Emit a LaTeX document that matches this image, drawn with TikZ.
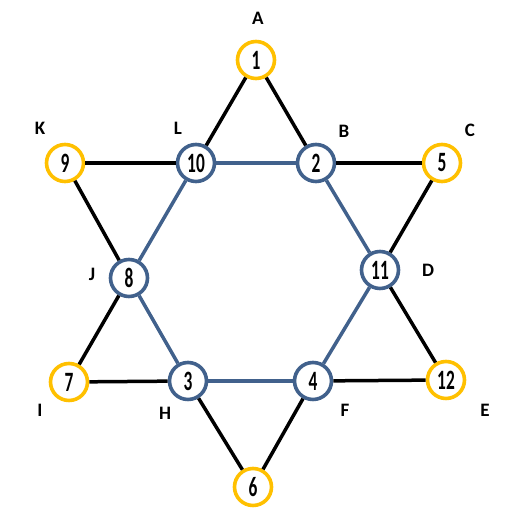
\documentclass[tikz,border=0pt]{standalone}
\usepackage{fontspec}
\setmainfont{Carlito}
\newfontfamily\numfont[FakeStretch=0.62]{Carlito}
\definecolor{tipgold}{RGB}{255,192,0}
\definecolor{hexblue}{RGB}{65,97,140}

\begin{document}
\begin{tikzpicture}[x=0.5pt,y=-0.5pt,
  spot/.style={circle,draw,line width=1.8pt,fill=white,minimum size=18.5pt,
    inner sep=0pt,font=\numfont\bfseries\fontsize{14}{14}\selectfont},
  tip/.style={spot,draw=tipgold},
  hub/.style={spot,draw=hexblue},
  tag/.style={font=\bfseries\fontsize{9.5}{10}\selectfont},
  edge/.style={line width=1.75pt}]
  \useasboundingbox (0,0) rectangle (516,512);
  % outer points of the star
  \foreach \n/\x/\y in {1/256/60, 5/442/163, 12/446/380, 6/253/487, 7/69/382, 9/65/163}
    \node[tip] (n\n) at (\x,\y) {\n};
  % inner hexagon
  \foreach \n/\x/\y in {10/196/163, 2/316/163, 11/380/270, 4/313/381, 3/188/381, 8/129/278}
    \node[hub] (n\n) at (\x,\y) {\n};
  % letters
  \foreach \t/\x/\y in {A/258/18, L/178/128, B/344/131, C/470/130, K/40/128, J/92/274,
      D/428/270, I/40/410, H/165/413, F/345/410, E/485/410}
    \node[tag] (l\t) at (\x,\y) {\t};
  % edges
  \foreach \a/\b in {1/10, 1/2, 9/10, 2/5, 5/11, 9/8, 8/7, 7/3, 11/12, 12/4, 3/6, 6/4}
    \draw[edge,black] (n\a) -- (n\b);
  \foreach \a/\b in {10/2, 2/11, 11/4, 4/3, 3/8, 8/10}
    \draw[edge,hexblue] (n\a) -- (n\b);
\end{tikzpicture}
\end{document}
